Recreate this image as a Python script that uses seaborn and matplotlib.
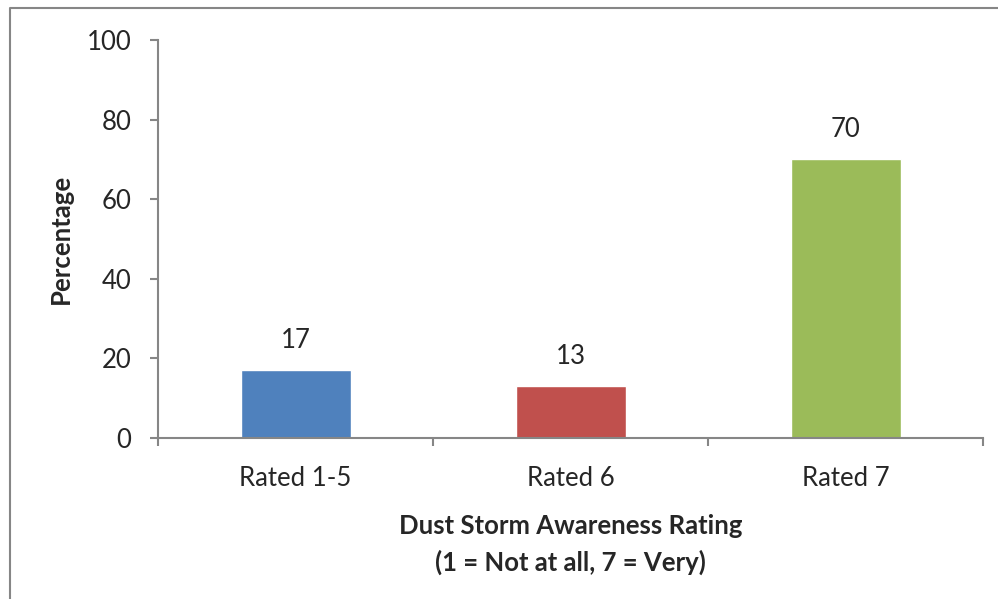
import pandas as pd
import matplotlib.pyplot as plt
import seaborn as sns
from matplotlib.lines import Line2D

# ---- data ----
categories = ["Rated 1-5", "Rated 6", "Rated 7"]
percentages = [17, 13, 70]
bar_colors = ["#4F81BD", "#C0504D", "#9BBB59"]
y_ticks = [0, 20, 40, 60, 80, 100]

df = pd.DataFrame({"rating": categories, "pct": percentages})

sns.set_style("white")
plt.rcParams["font.family"] = ["Lato", "DejaVu Sans"]

FS = 18.5

fig = plt.figure(figsize=(9.98, 5.99), dpi=100)
ax = fig.add_axes([158 / 998, 1 - 438 / 599, 825 / 998, 398 / 599])

sns.barplot(data=df, x="rating", y="pct", hue="rating", palette=bar_colors,
            width=0.4, legend=False, ax=ax, saturation=1)

ax.set_ylim(0, 100)
ax.set_xlim(-0.5, 2.5)
ax.set_yticks(y_ticks)
ax.set_yticklabels([str(t) for t in y_ticks], fontsize=FS)

# value labels
for i, v in enumerate(percentages):
    ax.text(i, v + 4.3, str(v), ha="center", va="bottom", fontsize=FS)

# x ticks between categories
ax.set_xticks([-0.5, 0.5, 1.5, 2.5], minor=False)
ax.set_xticklabels([])
ax.set_xticks([0, 1, 2], minor=True)
ax.set_xticklabels(categories, minor=True, fontsize=FS)
ax.tick_params(axis="x", which="minor", bottom=True, length=0, pad=20)
ax.tick_params(axis="x", which="major", bottom=True, length=6, width=1.5,
               color="#868686", direction="out")
ax.tick_params(axis="y", left=True, length=6, width=1.5, color="#868686",
               direction="out", pad=13)

for side in ["top", "right"]:
    ax.spines[side].set_visible(False)
for side in ["left", "bottom"]:
    ax.spines[side].set_color("#868686")
    ax.spines[side].set_linewidth(1.5)

ax.set_ylabel("Percentage", fontsize=FS, fontweight="bold", labelpad=10)
ax.set_xlabel("Dust Storm Awareness Rating\n(1 = Not at all, 7 = Very)",
              fontsize=FS, fontweight="bold", labelpad=17, linespacing=1.55)

# chart-area border (top and left edges visible)
fig.add_artist(Line2D([10 / 998, 10 / 998, 1.0], [0.0, 1 - 8 / 599, 1 - 8 / 599],
                      transform=fig.transFigure, color="#868686", linewidth=1.5))

fig.savefig("out.png", dpi=100, facecolor="white")
